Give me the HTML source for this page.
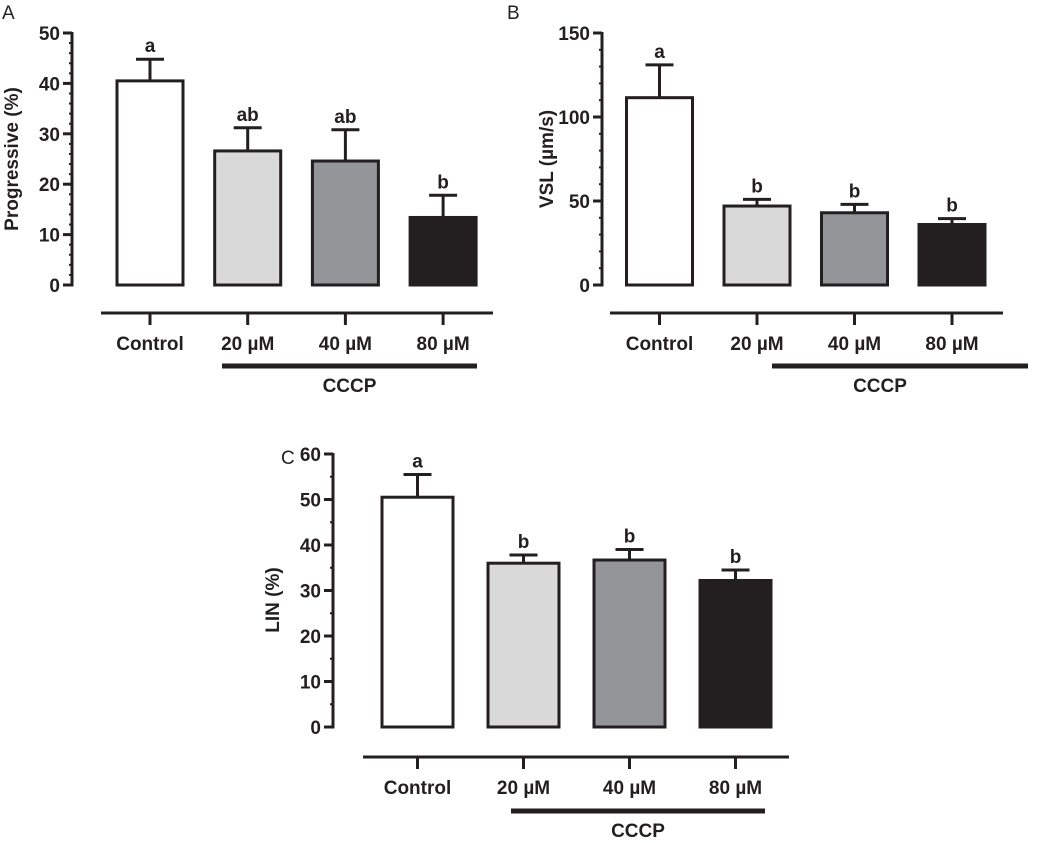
<!DOCTYPE html>
<html><head><meta charset="utf-8"><style>
body{margin:0;background:#fff}
svg{display:block;font-family:"Liberation Sans",Arial,sans-serif}
.t{font-weight:bold;font-size:19px;fill:#231f20}
</style></head><body>
<svg id="fig" width="1043" height="843" viewBox="0 0 1043 843"></svg>
<script>
const categories=["Control","20 \u00b5M","40 \u00b5M","80 \u00b5M"];
const fills=["#ffffff","#d9d9d9","#949598","#231f20"];
const progValues=[40.5,26.6,24.6,13.4];
const progErr=[4.3,4.6,6.2,4.4];
const progSig=["a","ab","ab","b"];
const progTicks=[0,10,20,30,40,50];
const vslValues=[111.5,47,43,36];
const vslErr=[19.5,4,5,3.5];
const vslSig=["a","b","b","b"];
const vslTicks=[0,50,100,150];
const linValues=[50.5,36,36.7,32.2];
const linErr=[5,1.8,2.3,2.3];
const linSig=["a","b","b","b"];
const linTicks=[0,10,20,30,40,50,60];
const NS="http://www.w3.org/2000/svg";
const svg=document.getElementById('fig');
function mk(tag,at,parent,txt){const e=document.createElementNS(NS,tag);for(const k in at)e.setAttribute(k,at[k]);if(txt!==undefined)e.textContent=txt;(parent||svg).appendChild(e);return e;}
function panel(p){
  const g=mk('g',{});
  
  
  const max=p.ticks[p.ticks.length-1];
  const y=v=>p.y0-(v/max)*(p.y0-p.yTop);
  const ax=mk('line',{x1:p.ax,x2:p.ax,y1:p.yTop-1,y2:p.y0+1.5,stroke:'#231f20','stroke-width':3},g);
  
  
  const step=p.ticks[1]-p.ticks[0];
  for(let v=0;v<=max+1e-9;v+=step/p.minor){
    mk('line',{x1:p.ax-3,x2:p.ax,y1:y(v),y2:y(v),stroke:'#231f20','stroke-width':2},g);
  }
  p.ticks.forEach(v=>{
    mk('line',{x1:p.ax-9,x2:p.ax,y1:y(v),y2:y(v),stroke:'#231f20','stroke-width':3},g);
    const t=mk('text',{x:p.ax-12,y:y(v)+7,'text-anchor':'end',class:'t'},g,String(v));
    
    
  });
  const yt=mk('text',{x:0,y:0,'text-anchor':'middle',class:'t',transform:`translate(${p.ytx},${p.yty}) rotate(-90)`},g,p.ylabel);
  
  
  p.values.forEach((v,i)=>{
    const cx=p.c0+i*p.sp;
    const top=y(v+p.err[i]);
    mk('line',{x1:cx,x2:cx,y1:y(v),y2:top,stroke:'#231f20','stroke-width':3},g);
    mk('line',{x1:cx-14,x2:cx+14,y1:top,y2:top,stroke:'#231f20','stroke-width':3},g);
    const r=mk('rect',{x:cx-p.bw/2,y:y(v),width:p.bw,height:p.y0-y(v),fill:fills[i],stroke:'#231f20','stroke-width':3},g);
    
    
    const s=mk('text',{x:cx,y:top-7,'text-anchor':'middle',class:'t'},g,p.sig[i]);
    
    
    mk('line',{x1:cx,x2:cx,y1:p.xl,y2:p.xl+12,stroke:'#231f20','stroke-width':3},g);
    const c=mk('text',{x:cx,y:p.xl+37,'text-anchor':'middle',class:'t'},g,categories[i]);
    
    
  });
  const xa=mk('line',{x1:p.xa1,x2:p.xa2,y1:p.xl,y2:p.xl,stroke:'#231f20','stroke-width':3},g);
  
  
  const cb=mk('rect',{x:p.cb1,y:p.cby-2.5,width:p.cb2-p.cb1,height:5,fill:'#231f20'},g);
  
  
  const ct=mk('text',{x:(p.cb1+p.cb2)/2+(p.ctoff||0),y:p.cby+26,'text-anchor':'middle',class:'t'},g,'CCCP');
  
  
  const pl=mk('text',{x:p.plx,y:p.ply,'font-size':'19px',fill:'#231f20'},g,p.letter);
  
  
}
panel({name:'panel-a',letter:'A',plx:2,ply:19,values:progValues,err:progErr,sig:progSig,ticks:progTicks,minor:5,ylabel:'Progressive (%)',
  ax:72,y0:285,yTop:33,c0:150,sp:97.7,bw:66,xl:313,xa1:101,xa2:493,cb1:222,cb2:477,cby:366,ytx:18,yty:159});
panel({name:'panel-b',letter:'B',plx:507,ply:19,values:vslValues,err:vslErr,sig:vslSig,ticks:vslTicks,minor:5,ylabel:'VSL (\u00b5m/s)',
  ax:602,y0:285,yTop:33,c0:659.5,sp:97.5,bw:66,xl:313,xa1:610,xa2:1003,cb1:772,cb2:1028,cby:366,ctoff:-20,ytx:553,yty:159});
panel({name:'panel-c',letter:'C',plx:281,ply:464,values:linValues,err:linErr,sig:linSig,ticks:linTicks,minor:2,ylabel:'LIN (%)',
  ax:333,y0:727,yTop:454,c0:417.5,sp:106,bw:71,xl:757,xa1:363,xa2:789,cb1:511,cb2:765,cby:811,ctoff:0,ytx:279,yty:600});
</script>
</body></html>
